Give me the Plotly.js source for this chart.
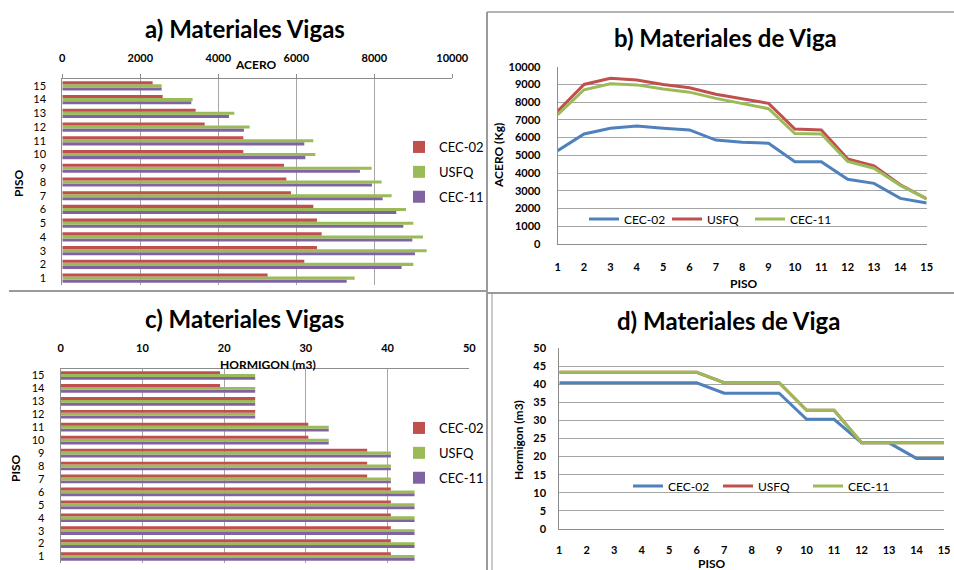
<!DOCTYPE html>
<html>
<head>
<meta charset="utf-8">
<script src="https://cdn.plot.ly/plotly-3.0.1.min.js"></script>
<style>html,body{margin:0;padding:0;background:#fff;}#chart{width:954px;height:570px;}</style>
</head>
<body>
<div id="chart"></div>
<script>
// ---- data ----
const pisos = [1,2,3,4,5,6,7,8,9,10,11,12,13,14,15];
const seriesNames = ["CEC-02","USFQ","CEC-11"];
const aceroCEC02 = [5265,6205,6530,6650,6530,6436,5863,5744,5684,4641,4641,3650,3419,2573,2316];
const aceroUSFQ  = [7496,9000,9342,9248,9000,8812,8444,8188,7932,6487,6436,4803,4410,3342,2547];
const aceroCEC11 = [7291,8700,9043,8974,8744,8564,8214,7940,7632,6231,6205,4658,4274,3308,2547];
const hormCEC02 = [40.4,40.4,40.4,40.4,40.4,40.4,37.5,37.5,37.5,30.3,30.3,23.8,23.8,19.5,19.5];
const hormUSFQ  = [43.3,43.3,43.3,43.3,43.3,43.3,40.4,40.4,40.4,32.8,32.8,23.8,23.8,23.8,23.8];
const hormCEC11 = [43.3,43.3,43.3,43.3,43.3,43.3,40.4,40.4,40.4,32.8,32.8,23.8,23.8,23.8,23.8];

// ---- styles ----
const FONT = "Lato, 'Open Sans', sans-serif";
const barColors = {"CEC-02":"#C0504D","USFQ":"#9BBB59","CEC-11":"#8064A2"};
const lineColors = {"CEC-02":"#4F81BD","USFQ":"#C0504D","CEC-11":"#9BBB59"};
const legendRank = {"CEC-02":1,"USFQ":2,"CEC-11":3};
const GRID = "#a6a6a6";
const W = 954, H = 570;
const px = v => v / W;
const py = v => 1 - v / H;

const traces = [];
const aceroBySeries = {"CEC-02":aceroCEC02,"USFQ":aceroUSFQ,"CEC-11":aceroCEC11};
const hormBySeries = {"CEC-02":hormCEC02,"USFQ":hormUSFQ,"CEC-11":hormCEC11};
// panel a: horizontal bars (group order bottom->top: CEC-11, USFQ, CEC-02)
["CEC-11","USFQ","CEC-02"].forEach(n => {
  traces.push({type:"bar", orientation:"h", name:n, x:aceroBySeries[n], y:pisos,
    xaxis:"x", yaxis:"y", marker:{color:barColors[n]}, legend:"legend", legendgroup:"a"+n,
    legendrank:legendRank[n], hoverinfo:"skip"});
});
// panel b: lines
seriesNames.forEach(n => {
  traces.push({type:"scatter", mode:"lines", name:n, x:pisos, y:aceroBySeries[n],
    xaxis:"x2", yaxis:"y2", line:{color:lineColors[n], width:3}, legend:"legend2", hoverinfo:"skip"});
});
// panel c: horizontal bars
["CEC-11","USFQ","CEC-02"].forEach(n => {
  traces.push({type:"bar", orientation:"h", name:n, x:hormBySeries[n], y:pisos,
    xaxis:"x3", yaxis:"y3", marker:{color:barColors[n]}, legend:"legend3", legendgroup:"c"+n,
    legendrank:legendRank[n], hoverinfo:"skip"});
});
// panel d: lines
seriesNames.forEach(n => {
  traces.push({type:"scatter", mode:"lines", name:n, x:pisos, y:hormBySeries[n],
    xaxis:"x4", yaxis:"y4", line:{color:lineColors[n], width:3}, legend:"legend4", hoverinfo:"skip"});
});

const tickBold = {family:FONT, size:11, color:"#000", weight:"bold"};
const tickReg = {family:FONT, size:11, color:"#000"};

const layout = {
  width:W, height:H,
  margin:{l:0,r:0,t:0,b:0},
  paper_bgcolor:"#fff", plot_bgcolor:"rgba(0,0,0,0)",
  font:{family:FONT, color:"#000"},
  barmode:"group", bargap:0.33, bargroupgap:0,
  showlegend:true,
  // panel a
  xaxis:{domain:[px(62.3),px(452.3)], anchor:"y", side:"top", range:[0,10000], dtick:2000, tickformat:"d",
    showgrid:true, gridcolor:GRID, showline:true, linecolor:"#8c8c8c", zeroline:false,
    ticks:"outside", ticklen:4, tickcolor:"#8c8c8c", ticklabelstandoff:8, tickfont:tickBold},
  yaxis:{domain:[py(285),py(79)], anchor:"x", range:[0.5,15.5], tickvals:pisos,
    showgrid:false, showline:true, linecolor:"#8c8c8c", zeroline:false, ticks:"", ticklabelstandoff:13, tickfont:tickReg},
  // panel b
  xaxis2:{domain:[px(557.7),px(926.7)], anchor:"y2", range:[1,15], dtick:1,
    showgrid:false, showline:true, linecolor:"#8c8c8c", zeroline:false, ticks:"", ticklabelstandoff:13, tickfont:tickBold},
  yaxis2:{domain:[py(244),py(66.7)], anchor:"x2", range:[0,10000], dtick:1000, tickformat:"d",
    showgrid:true, gridcolor:GRID, showline:true, linecolor:"#8c8c8c", zeroline:false, ticks:"", ticklabelstandoff:14, tickfont:tickBold},
  // panel c
  xaxis3:{domain:[px(60.7),px(469.3)], anchor:"y3", side:"top", range:[0,50], dtick:10,
    showgrid:true, gridcolor:GRID, showline:true, linecolor:"#8c8c8c", zeroline:false,
    ticks:"", ticklabelstandoff:12, tickfont:tickBold},
  yaxis3:{domain:[py(563),py(369)], anchor:"x3", range:[0.5,15.5], tickvals:pisos,
    showgrid:false, showline:true, linecolor:"#8c8c8c", zeroline:false, ticks:"", ticklabelstandoff:13, tickfont:tickReg},
  // panel d
  xaxis4:{domain:[px(559.3),px(944)], anchor:"y4", range:[1,15], dtick:1,
    showgrid:false, showline:true, linecolor:"#8c8c8c", zeroline:false, ticks:"", ticklabelstandoff:11, tickfont:tickBold},
  yaxis4:{domain:[py(529),py(348)], anchor:"x4", range:[0,50], dtick:5,
    showgrid:true, gridcolor:GRID, showline:true, linecolor:"#8c8c8c", zeroline:false, ticks:"", ticklabelstandoff:10, tickfont:tickBold},
  legend:{x:px(399), y:py(132), xanchor:"left", yanchor:"top", traceorder:"grouped", tracegroupgap:5,
    bgcolor:"rgba(0,0,0,0)", font:{family:FONT, size:13, color:"#000"}},
  legend2:{x:px(584), y:py(219), xanchor:"left", yanchor:"middle", orientation:"h", entrywidth:38,
    bgcolor:"rgba(0,0,0,0)", font:{family:FONT, size:12, color:"#000"}},
  legend3:{x:px(399), y:py(413), xanchor:"left", yanchor:"top", traceorder:"grouped", tracegroupgap:5,
    bgcolor:"rgba(0,0,0,0)", font:{family:FONT, size:13, color:"#000"}},
  legend4:{x:px(628), y:py(486), xanchor:"left", yanchor:"middle", orientation:"h", entrywidth:45,
    bgcolor:"rgba(0,0,0,0)", font:{family:FONT, size:12, color:"#000"}},
  annotations:[
    {text:"a) Materiales Vigas", x:px(245), y:py(28), font:{size:24, weight:"bold"}},
    {text:"ACERO", x:px(256), y:py(64), font:{size:12, weight:"bold"}},
    {text:"PISO", x:px(18), y:py(183), textangle:-90, font:{size:12, weight:"bold"}},
    {text:"b) Materiales de Viga", x:px(725), y:py(38), font:{size:24, weight:"bold"}},
    {text:"ACERO (Kg)", x:px(499), y:py(155), textangle:-90, font:{size:12, weight:"bold"}},
    {text:"PISO", x:px(744), y:py(283), font:{size:12, weight:"bold"}},
    {text:"c) Materiales Vigas", x:px(245), y:py(318), font:{size:24, weight:"bold"}},
    {text:"HORMIGON (m3)", x:px(268), y:py(364), font:{size:12, weight:"bold"}},
    {text:"PISO", x:px(15), y:py(468), textangle:-90, font:{size:12, weight:"bold"}},
    {text:"d) Materiales de Viga", x:px(728), y:py(320), font:{size:24, weight:"bold"}},
    {text:"Hormigon (m3)", x:px(518), y:py(440), textangle:-90, font:{size:12, weight:"bold"}},
    {text:"PISO", x:px(712), y:py(563), font:{size:12, weight:"bold"}}
  ].map(a => Object.assign({xref:"paper", yref:"paper", showarrow:false, xanchor:"center", yanchor:"middle"}, a,
      {font:Object.assign({family:FONT, color:"#000"}, a.font)})),
  shapes:[
    {type:"line", xref:"paper", yref:"paper", x0:px(9), x1:px(486), y0:py(291), y1:py(291), line:{color:"#9a9a9a", width:2}},
    {type:"line", xref:"paper", yref:"paper", x0:px(487), x1:px(487), y0:py(12), y1:py(570), line:{color:"#9a9a9a", width:2}},
    {type:"line", xref:"paper", yref:"paper", x0:px(487), x1:px(954), y0:py(12), y1:py(12), line:{color:"#9a9a9a", width:1.5}},
    {type:"line", xref:"paper", yref:"paper", x0:px(487), x1:px(954), y0:py(293), y1:py(293), line:{color:"#9a9a9a", width:2}},
    {type:"line", xref:"paper", yref:"paper", x0:px(492), x1:px(492), y0:py(294), y1:py(570), line:{color:"#b8b8b8", width:1.5}}
  ]
};

Plotly.newPlot("chart", traces, layout, {staticPlot:true, displayModeBar:false});
</script>
</body>
</html>
